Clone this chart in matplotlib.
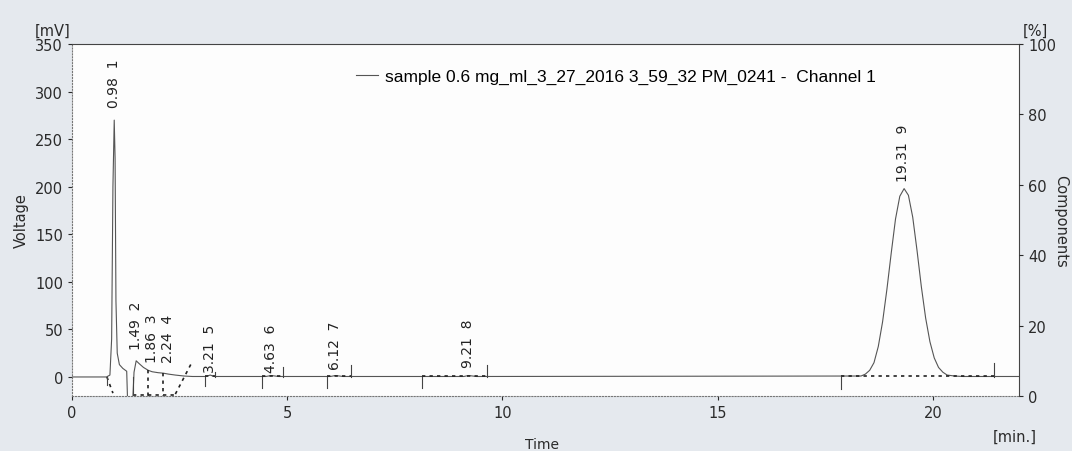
import numpy as np
import matplotlib.pyplot as plt

# Хроматограмма: точки сигнала
time_min = [0.0, 0.80, 0.88, 0.92, 0.95, 0.98, 1.00, 1.02, 1.05, 1.10, 1.18, 1.27,
            1.29, 1.41, 1.44, 1.49, 1.56, 1.66, 1.77, 1.86, 2.00, 2.12, 2.24, 2.40,
            2.60, 2.80, 3.10, 3.21, 3.30, 4.50, 4.63, 4.80, 6.00, 6.12, 6.30, 9.10,
            9.21, 9.40, 18.33, 18.43, 18.53, 18.63, 18.73, 18.83, 18.93, 19.03,
            19.13, 19.23, 19.33, 19.43, 19.53, 19.63, 19.73, 19.83, 19.93, 20.03,
            20.13, 20.23, 20.33, 20.50, 20.70, 22.0]
voltage_mv = [0, 0, 2, 40, 200, 270, 230, 80, 25, 13, 9, 6,
              -25, -25, 5, 17, 14, 10, 7, 5.5, 4.5, 4, 3, 2,
              1, 0.5, 0.5, 2, 0.5, 0.5, 1.5, 0.5, 0.5, 1.5, 0.5, 0.5,
              1.5, 0.5, 1, 3, 7, 15, 32, 58, 92, 130,
              166, 190, 198, 191, 168, 133, 95, 62, 37, 20,
              10, 5, 2, 1, 0.5, 0.5]

# Пики: время удерживания, номер, высота подписи
peak_rt = [0.98, 1.49, 1.86, 2.24, 3.21, 4.63, 6.12, 9.21, 19.31]
peak_id = [1, 2, 3, 4, 5, 6, 7, 8, 9]
label_mv = [284, 29, 16, 16, 5, 5, 8, 10, 206]

# Базовые линии интегрирования (пунктир)
base_t0 = [0.81, 1.77, 2.12, 2.40, 1.42, 3.09, 4.42, 5.93, 8.12, 17.86]
base_v0 = [0, 7, 4, -18, -19, 0.5, 0.5, 0.5, 0.5, 1]
base_t1 = [0.95, 1.77, 2.12, 2.78, 2.40, 3.33, 4.91, 6.47, 9.65, 21.42]
base_v1 = [-17, -20, -20, 15, -19, 0.5, 0.5, 0.5, 0.5, 1]

# Метки начала/конца пиков
mark_t = [0.81, 1.42, 3.09, 3.33, 4.42, 4.91, 5.93, 6.47, 8.12, 9.65, 17.86, 21.42]
mark_v0 = [0, -20, 0, 0, 0, 0, 0, 0, 0, 0, 0, 0]
mark_v1 = [-8, 0, -10, 5, -12, 10, -12, 13, -12, 13, -13, 15]

legend_text = "sample 0.6 mg_ml_3_27_2016 3_59_32 PM_0241 -  Channel 1"

fig = plt.figure(figsize=(10.72, 4.52), dpi=100)
fig.patch.set_facecolor("#e5e9ee")
ax = fig.add_axes([0.0672, 0.1217, 0.8834, 0.7787])
ax.set_facecolor("#fdfdfd")

ax.plot(time_min, voltage_mv, color="#555555", lw=0.8, label=legend_text)
for t0, v0, t1, v1 in zip(base_t0, base_v0, base_t1, base_v1):
    ax.plot([t0, t1], [v0, v1], color="#222222", lw=1.2, ls=(0, (2, 2.5)))
for t, v0, v1 in zip(mark_t, mark_v0, mark_v1):
    ax.plot([t, t], [v0, v1], color="#444444", lw=0.8)

for rt, pid, h in zip(peak_rt, peak_id, label_mv):
    ax.text(rt, h, f"{rt:.2f}  {pid}", rotation=90, ha="center", va="bottom",
            fontsize=10, color="#222222")

ax.set_xlim(0, 22)
ax.set_ylim(-20, 350)
ax.set_xticks([0, 5, 10, 15, 20])
ax.set_yticks([0, 50, 100, 150, 200, 250, 300, 350])
ax.tick_params(labelsize=10.5, colors="#2a2a2a", length=3)
ax.set_ylabel("Voltage", fontsize=10.5, color="#2a2a2a", labelpad=4)

ax.spines["left"].set_linestyle(":")
ax.spines["left"].set_color("#777777")
ax.spines["bottom"].set_linestyle(":")
ax.spines["bottom"].set_color("#777777")
ax.spines["top"].set_color("#444444")
ax.spines["right"].set_color("#444444")

ax2 = ax.twinx()
ax2.set_ylim(0, 100)
ax2.set_yticks([0, 20, 40, 60, 80, 100])
ax2.tick_params(labelsize=10.5, colors="#2a2a2a", length=3)
for s in ax2.spines.values():
    s.set_visible(False)
ax2.set_ylabel("Components", fontsize=10.5, color="#2a2a2a", rotation=270, labelpad=9)

ax.legend(loc="upper left", bbox_to_anchor=(0.283, 0.975), frameon=False,
          handlelength=1.3, handletextpad=0.4,
          prop={"family": "Liberation Sans", "size": 12.5})

fig.text(0.066, 0.93, "[mV]", ha="right", va="center", fontsize=10.5, color="#2a2a2a")
fig.text(0.954, 0.93, "[%]", ha="left", va="center", fontsize=10.5, color="#2a2a2a")
fig.text(0.506, 0.0, "Time", ha="center", va="bottom", fontsize=10, color="#2a2a2a")
fig.text(0.947, 0.016, "[min.]", ha="center", va="bottom", fontsize=10.5, color="#2a2a2a")

fig.savefig("out.png", dpi=100, facecolor=fig.get_facecolor())
